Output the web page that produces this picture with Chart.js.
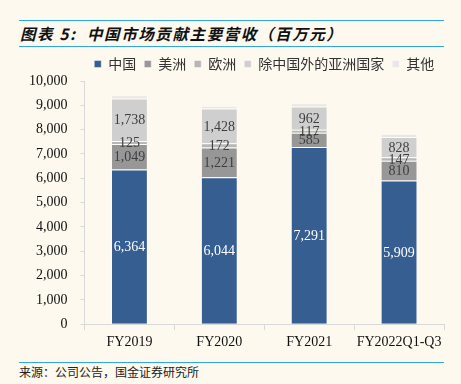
<!DOCTYPE html>
<html>
<head>
<meta charset="utf-8">
<script src="https://cdn.jsdelivr.net/npm/chart.js@4/dist/chart.umd.min.js"></script>
<style>
  body{margin:0;background:#fdf9ef;width:461px;height:384px;position:relative;overflow:hidden;font-family:"Noto Sans CJK SC",sans-serif;}
  .rule{position:absolute;left:19px;width:425px;height:0;border-top:1.5px solid #2fa8e0;}
  #title{position:absolute;left:20px;top:22px;font-size:15.5px;font-weight:bold;font-style:italic;letter-spacing:1.6px;color:#111;line-height:23px;white-space:nowrap;}
  #src{position:absolute;left:19px;top:364px;font-size:12px;color:#222;line-height:16px;white-space:nowrap;}
  #wrap{position:absolute;left:0;top:48px;width:461px;height:310px;}
</style>
</head>
<body>
<div class="rule" style="top:20px"></div>
<div id="title">图表 5:&nbsp; 中国市场贡献主要营收（百万元）</div>
<div class="rule" style="top:46px"></div>
<div id="wrap"><canvas id="chart"></canvas></div>
<div class="rule" style="top:362px"></div>
<div id="src">来源：公司公告，国金证券研究所</div>

<script>
let categories = ['FY2019','FY2020','FY2021','FY2022Q1-Q3'];
let china = [6364, 6044, 7291, 5909];
let america = [1049, 1221, 585, 810];
let europe = [125, 172, 117, 147];
let asiaExChina = [1738, 1428, 962, 828];
let others = [135, 115, 135, 135];
let yTicks = [0,1000,2000,3000,4000,5000,6000,7000,8000,9000,10000];

let serif = '"Liberation Serif", "Times New Roman", serif';

// value labels drawn in the middle of each segment
let segLabels = {
  id:'segLabels',
  afterDatasetsDraw(chart){
    let ctx = chart.ctx;
    ctx.save();
    ctx.font = '14px ' + serif;
    ctx.textAlign = 'center';
    ctx.textBaseline = 'middle';
    chart.data.datasets.forEach((ds, i) => {
      if (i > 3) return;
      let meta = chart.getDatasetMeta(i);
      meta.data.forEach((bar, j) => {
        let y = (bar.y + bar.base) / 2;
        ctx.fillStyle = i == 0 ? '#ffffff' : '#3f3f3f';
        ctx.fillText(ds.data[j].toLocaleString('en-US'), bar.x, y + 1);
      });
    });
    ctx.restore();
  }
};

let chartCanv = document.getElementById('chart').getContext("2d");

let chart = new Chart(chartCanv,{
  type:'bar',
  plugins:[segLabels],
  data:{
    labels:categories,
    datasets:[
      {label:'中国', data:china, backgroundColor:'#375e91'},
      {label:'美洲', data:america, backgroundColor:'#979797'},
      {label:'欧洲', data:europe, backgroundColor:'#b7b7b7'},
      {label:'除中国外的亚洲国家', data:asiaExChina, backgroundColor:'#cfcfcf'},
      {label:'其他', data:others, backgroundColor:'#e7e7e7'}
    ].map(d => Object.assign(d, {
      borderColor:'rgba(255,255,255,0.45)',
      borderWidth:1,
      barPercentage:0.41,
      categoryPercentage:1
    }))
  },
  options:{
    responsive:true,
    maintainAspectRatio:false,
    animation:false,
    layout:{padding:{left:16,right:17,top:1,bottom:3}},
    plugins:{
      legend:{
        position:'top',
        fullSize:false,
        labels:{
          boxWidth:7,
          boxHeight:7,
          padding:8,
          color:'#333',
          font:{family:'"Noto Sans CJK SC"', size:14}
        }
      },
      tooltip:{enabled:false}
    },
    scales:{
      x:{
        stacked:true,
        grid:{drawOnChartArea:false, tickLength:6, color:'#d9d9d9'},
        border:{color:'#d9d9d9'},
        ticks:{padding:4, maxRotation:0, minRotation:0, autoSkip:false, color:'#111', font:{family:serif, size:14}}
      },
      y:{
        stacked:true,
        min:0,
        max:10000,
        afterBuildTicks(axis){ axis.ticks = yTicks.map(v => ({value:v})); },
        grid:{drawOnChartArea:false, tickLength:4, color:'#d9d9d9'},
        border:{color:'#d9d9d9'},
        ticks:{
          padding:13,
          color:'#111',
          font:{family:serif, size:14},
          callback:v => v.toLocaleString('en-US')
        }
      }
    }
  }
})
</script>
</body>
</html>
